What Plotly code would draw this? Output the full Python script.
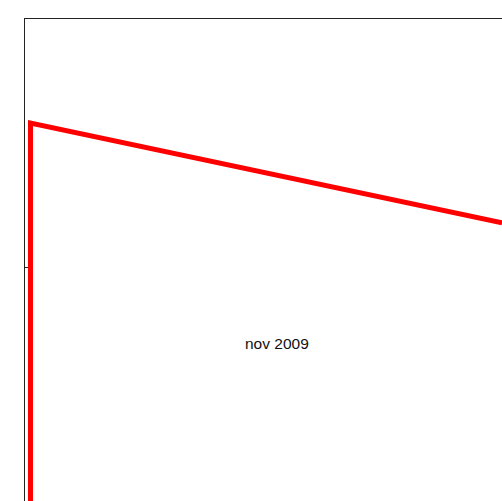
import plotly.graph_objects as go

# data (axis units)
line_x = [1.15, 1.15, 100.0]
line_y = [-10.0, 78.4, 57.7]
label_text = "nov 2009"
label_x = 52.8
label_y = 32.6
ytick_vals = [48.5]

fig = go.Figure()
fig.add_trace(go.Scatter(x=line_x, y=line_y, mode="lines",
                         line=dict(color="#ff0000", width=5),
                         hoverinfo="skip", showlegend=False))
fig.add_annotation(x=label_x, y=label_y, text=label_text, showarrow=False,
                   font=dict(family="Liberation Sans, Arial", size=15.5, color="#111111"))

fig.update_layout(
    width=502, height=501,
    margin=dict(l=25, t=19, r=0, b=0, pad=0),
    paper_bgcolor="white", plot_bgcolor="white",
    xaxis=dict(range=[0, 100], side="top", showline=True, linecolor="#222222", linewidth=1,
               showgrid=False, zeroline=False, showticklabels=False, ticks=""),
    yaxis=dict(range=[0, 100], showline=True, linecolor="#222222", linewidth=1,
               showgrid=False, zeroline=False, showticklabels=False,
               tickvals=ytick_vals, ticks="inside", ticklen=3, tickcolor="#222222"),
    showlegend=False,
)
fig.write_html("out.html", config={"displayModeBar": False},
               post_script="document.body.style.margin='0';document.body.style.overflow='hidden';")
